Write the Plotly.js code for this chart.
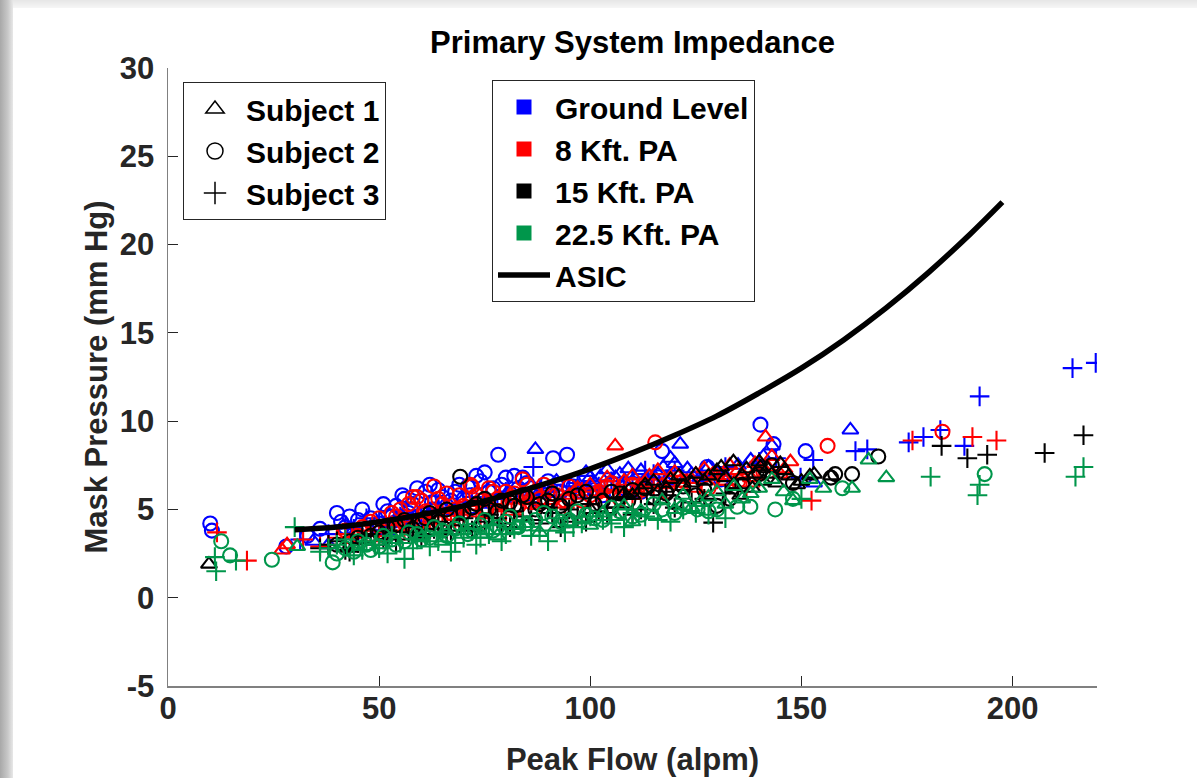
<!DOCTYPE html>
<html>
<head>
<meta charset="utf-8">
<script src="https://cdn.plot.ly/plotly-3.0.1.min.js"></script>
<style>
  html, body { margin: 0; padding: 0; background: #ffffff; }
  #wrap { position: relative; width: 1197px; height: 778px; overflow: hidden; }
  #chart { width: 1197px; height: 778px; }
  #edgeTop { position: absolute; left: 0; top: 0; width: 1197px; height: 8px; background: linear-gradient(to bottom, #e6e6e6, #f6f6f6); pointer-events: none; }
  #edgeLeft { position: absolute; left: 0; top: 0; width: 13px; height: 778px; background: linear-gradient(to right, #a8a8a8, #c8c8c8 60%, #e8e8e8); pointer-events: none; }
</style>
</head>
<body>
<div id="wrap">
  <div id="chart"></div>
  <div id="edgeTop"></div>
  <div id="edgeLeft"></div>
</div>
<script>
// ---------------- data ----------------
const xTickVals = [0, 50, 100, 150, 200];
const yTickVals = [-5, 0, 5, 10, 15, 20, 25, 30];

const subjectNames = ["Subject 1", "Subject 2", "Subject 3"];
const conditionNames = ["Ground Level", "8 Kft. PA", "15 Kft. PA", "22.5 Kft. PA"];

// Ground Level
const glS1Flow = [34.4, 38, 52, 60, 68, 75, 82, 87, 90, 95, 100, 102.4, 104, 107, 110, 112, 115, 117.3, 119, 121.3, 123, 126, 130, 135, 138, 141, 143, 153, 161.6,
  88, 92, 97, 99, 101, 106, 109, 113, 116, 118, 120, 124, 128, 132];
const glS1Pres = [3.2, 3.0, 3.8, 4.4, 4.9, 5.3, 5.6, 8.4, 6.2, 6.5, 6.8, 6.85, 7.25, 7.0, 6.6, 7.2, 6.9, 7.4, 7.9, 8.7, 7.3, 6.8, 7.1, 7.5, 7.8, 8.0, 8.6, 6.5, 9.5,
  6.0, 6.6, 6.3, 7.1, 6.5, 6.8, 7.3, 6.7, 7.0, 6.6, 7.6, 7.0, 7.4, 6.9];
const glS2Flow = [10, 10.4, 28, 33, 36, 40, 42, 44, 45, 47, 48, 50, 52, 54, 55, 56, 57, 58, 60, 61, 62, 63, 65, 66, 68, 70, 71, 72, 74, 75, 76, 78.2, 79, 80, 82, 83, 85, 87, 89, 91.2, 92, 94.5, 95, 98, 103, 108, 112, 117, 120, 127.7, 131, 140.3, 143.4, 151,
  41, 43, 46, 49, 51, 53, 55.5, 57.5, 59, 60.5, 62.5, 64, 67, 69, 71.5, 73, 77, 81, 84, 86, 88, 90, 93, 96, 99, 101, 105];
const glS2Pres = [4.2, 3.8, 2.9, 3.5, 3.9, 4.8, 4.0, 3.6, 4.4, 3.9, 4.5, 4.2, 4.9, 5.2, 4.4, 5.6, 4.8, 5.3, 5.5, 6.0, 6.4, 5.0, 5.7, 5.2, 6.0, 5.6, 6.3, 5.1, 6.6, 7.1, 6.0, 8.1, 6.4, 6.8, 6.9, 6.2, 6.5, 5.8, 6.1, 7.9, 6.4, 8.1, 5.7, 6.0, 5.8, 6.2, 6.0, 8.3, 7.0, 7.4, 6.7, 9.8, 8.7, 8.3,
  4.3, 4.6, 5.0, 4.1, 5.3, 4.6, 5.8, 5.0, 6.2, 4.7, 5.4, 6.1, 5.5, 6.4, 5.8, 6.9, 6.2, 5.9, 6.8, 6.2, 5.5, 6.6, 6.0, 6.3, 6.9, 6.1, 6.5];
const glS3Flow = [31.3, 38, 44, 50, 55, 58, 62, 66, 70, 74, 78, 86.5, 86, 90, 95, 100, 105, 110, 115, 120, 126, 132, 140, 144, 149.8, 152.8, 162.8, 165.6, 175.4, 178.9, 182.9, 188.6, 192.2, 214.2, 219.7,
  42, 47, 52, 56, 60, 64, 68, 72, 76, 80, 84, 88, 92, 97, 102, 108, 113, 118];
const glS3Pres = [3.3, 3.6, 3.9, 4.3, 4.6, 4.0, 4.9, 5.1, 5.4, 4.8, 5.6, 7.4, 5.8, 6.0, 6.3, 6.1, 6.6, 6.8, 7.0, 7.2, 6.9, 7.4, 7.7, 7.9, 6.8, 7.8, 8.3, 8.4, 8.8, 9.1, 9.5, 8.6, 11.4, 13.0, 13.3,
  4.1, 4.5, 4.0, 4.8, 4.5, 5.3, 4.8, 5.7, 5.2, 6.0, 5.5, 6.2, 5.7, 6.5, 6.3, 6.4, 7.2, 6.6];

// 8 Kft. PA
const k8S1Flow = [27, 28.2, 75, 85, 95, 100, 102, 105.9, 108, 111, 114, 117, 120, 124, 127, 130, 133, 136, 139, 141.5, 143, 146, 147.4,
  97, 104, 110, 113, 116, 119, 122, 125, 129, 132, 135, 138, 142, 145];
const k8S1Pres = [2.7, 3.0, 5.0, 5.5, 5.8, 6.4, 6.0, 8.6, 6.6, 6.2, 6.9, 6.4, 7.1, 6.7, 7.3, 6.9, 7.5, 7.0, 7.6, 9.1, 8.0, 7.3, 7.7,
  6.2, 6.8, 6.9, 6.5, 7.2, 6.8, 6.5, 7.0, 7.0, 6.6, 7.2, 6.8, 7.4, 7.0];
const k8S2Flow = [45, 48, 52, 54, 55, 58, 59, 60, 62, 63, 65, 67, 69, 70, 71.6, 72, 74, 75, 77, 79, 81.5, 83, 84, 85, 88, 90, 94, 97, 100, 104, 107, 110, 115.4, 118, 122, 128, 135, 141, 156.2, 183.4,
  42, 46, 50, 53, 56, 57, 61, 64, 66, 68, 73, 76, 78, 80, 82, 86, 87, 89, 92, 95, 98, 102, 105, 112];
const k8S2Pres = [3.5, 4.3, 4.0, 4.6, 5.0, 5.7, 5.7, 5.5, 4.2, 6.3, 5.3, 4.8, 5.8, 5.2, 6.4, 6.3, 5.5, 4.9, 6.0, 5.4, 5.7, 5.2, 6.7, 6.4, 5.6, 6.1, 5.5, 6.0, 5.8, 6.3, 5.6, 6.4, 8.8, 6.0, 6.6, 6.2, 6.6, 7.1, 8.6, 9.4,
  3.8, 4.0, 4.5, 4.8, 4.2, 5.3, 4.9, 5.6, 5.9, 5.0, 5.8, 6.2, 5.6, 6.0, 5.9, 5.4, 6.0, 6.4, 5.8, 6.3, 5.5, 6.0, 6.5, 6.1];
const k8S3Flow = [11.6, 18.7, 32, 36, 40, 44, 47, 50, 53, 56, 59, 62, 65, 68, 71, 74, 77, 80, 84, 88, 92, 96, 100, 104, 110, 115, 120, 126, 133, 140, 152.4, 176.3, 190.5, 196.2,
  38, 42, 45, 49, 52, 55, 58, 61, 64, 67, 70, 73, 76, 79, 82, 86, 90, 94, 98, 102, 107, 112, 118, 123, 130, 137];
const k8S3Pres = [3.7, 2.1, 3.3, 2.9, 3.4, 3.1, 3.8, 3.5, 4.1, 3.8, 4.5, 4.2, 4.8, 4.4, 5.0, 4.6, 5.3, 4.9, 5.4, 5.1, 5.5, 5.8, 5.3, 6.0, 5.6, 6.2, 6.6, 6.0, 6.4, 6.8, 5.5, 8.9, 9.1, 8.9,
  3.0, 3.6, 3.4, 3.2, 3.7, 4.3, 4.0, 3.9, 4.6, 4.1, 4.7, 5.2, 4.5, 5.0, 4.7, 5.6, 5.3, 5.1, 6.0, 5.7, 6.1, 5.9, 6.3, 6.5, 6.7, 6.3];

// 15 Kft. PA
const k15S1Flow = [9.7, 95, 100, 105, 110, 113, 116, 119, 122, 125, 127, 130, 132, 133.9, 135.5, 136, 138.4, 140, 140.3, 142, 144, 145, 147, 150, 153, 157,
  108, 112, 115, 118, 121, 124, 128, 131, 134, 137, 139, 141, 143, 146, 149, 152];
const k15S1Pres = [1.9, 4.5, 5.0, 5.3, 5.8, 6.4, 6.0, 6.7, 6.3, 7.0, 6.6, 7.2, 6.8, 7.7, 5.8, 6.9, 6.2, 7.7, 7.4, 7.3, 6.5, 7.6, 6.9, 6.6, 7.0, 6.9,
  5.9, 6.1, 6.6, 6.2, 6.9, 6.5, 6.9, 7.4, 6.4, 7.3, 7.0, 6.6, 7.0, 7.2, 6.4, 6.9];
const k15S2Flow = [40, 45, 50, 54, 58, 61, 64, 66, 69.2, 70, 73, 76, 79, 82, 85, 88, 91, 95, 99, 103, 107, 110, 115, 120, 125, 130, 136, 140, 143, 148, 157, 158, 162, 168.2,
  43, 48, 52, 56, 60, 62, 67, 72, 75, 78, 81, 84, 87, 90, 93, 97, 101, 105, 109, 113, 118, 122, 127, 133];
const k15S2Pres = [3.0, 3.4, 3.7, 4.1, 3.9, 4.5, 4.3, 5.0, 6.85, 4.8, 5.3, 5.0, 5.5, 5.2, 5.7, 5.3, 5.9, 5.6, 6.0, 5.5, 5.9, 6.1, 5.7, 5.4, 5.8, 5.2, 6.4, 7.0, 7.5, 6.5, 6.8, 7.0, 7.0, 8.0,
  3.2, 3.5, 4.0, 4.4, 4.2, 4.8, 4.6, 5.1, 5.6, 4.9, 5.4, 5.8, 5.0, 5.5, 5.2, 5.8, 5.3, 6.0, 5.5, 6.2, 5.9, 6.3, 6.1, 5.6];
const k15S3Flow = [36, 40, 43, 46, 49, 52, 55, 58, 61, 64, 67, 70, 73, 76, 79, 82, 86, 90, 93, 97, 100, 104, 108, 112, 118, 124, 129.1, 135, 183.2, 189.3, 194, 207.6, 216.8,
  38, 42, 45, 48, 51, 54, 57, 60, 63, 66, 69, 72, 75, 78, 81, 84, 88, 91, 95, 99, 102, 106, 110, 115, 120, 127, 132];
const k15S3Pres = [2.8, 3.2, 2.6, 3.5, 3.0, 3.8, 3.3, 4.0, 3.6, 4.3, 3.8, 4.5, 4.0, 4.7, 4.2, 4.9, 4.4, 5.1, 4.0, 4.6, 5.3, 4.8, 5.6, 5.0, 5.8, 5.4, 4.25, 6.2, 8.6, 7.9, 8.1, 8.2, 9.2,
  3.0, 2.7, 3.1, 3.6, 3.3, 3.1, 3.7, 3.4, 3.9, 3.6, 4.1, 3.8, 4.3, 4.5, 4.0, 4.6, 4.2, 4.8, 5.0, 4.3, 4.9, 5.1, 4.7, 5.3, 5.1, 5.6, 5.9];

// 22.5 Kft. PA
const k22S1Flow = [30.6, 60, 70, 78, 85, 92, 98, 103, 108, 112, 117, 122, 126, 130, 134, 138, 143, 145.8, 148, 152, 155.2, 162, 165.9, 170.1,
  65, 74, 82, 88, 95, 100, 106, 110, 115, 120, 124, 128, 132, 136, 140];
const k22S1Pres = [2.9, 3.4, 3.8, 3.5, 4.2, 4.0, 4.5, 4.8, 5.2, 4.9, 5.5, 5.8, 5.4, 6.0, 6.3, 5.9, 6.7, 6.0, 5.5, 6.7, 6.2, 6.2, 7.8, 6.8,
  3.2, 3.6, 3.9, 3.7, 4.3, 4.1, 4.6, 4.3, 4.7, 5.0, 5.1, 5.7, 5.3, 5.6, 6.2];
const k22S2Flow = [12.6, 14.7, 24.6, 39, 42, 45, 48, 51, 54, 57, 60, 63, 66, 69, 72, 75, 78, 81, 85, 89, 93, 97, 101, 105, 110, 115, 120, 125.4, 130, 134.8, 137.9, 143.8, 148, 159.7, 193.4,
  40, 44, 47, 50, 53, 56, 59, 62, 65, 68, 71, 74, 77, 80, 83, 87, 91, 95, 99, 103, 107, 112, 117, 122, 128];
const k22S2Pres = [3.2, 2.4, 2.15, 2.0, 2.8, 3.2, 2.7, 3.5, 3.0, 3.7, 3.3, 4.0, 3.5, 4.2, 3.8, 4.4, 4.0, 4.6, 4.2, 4.8, 4.3, 4.9, 4.5, 5.1, 4.6, 5.3, 4.8, 5.0, 5.0, 5.15, 5.15, 5.0, 5.6, 6.2, 7.0,
  2.5, 2.6, 3.0, 2.9, 3.3, 3.2, 3.6, 3.4, 3.8, 3.9, 3.6, 4.1, 3.8, 4.3, 4.0, 4.4, 4.6, 4.4, 4.7, 4.4, 4.9, 4.7, 5.0, 5.1, 4.9];
const k22S3Flow = [11.1, 11.4, 16.1, 30, 36, 40, 44, 47, 50, 53, 56, 59, 62, 65, 68, 71, 74, 77, 80, 84, 88, 90, 92, 96, 100, 105, 110, 116, 122, 128, 150, 180.6, 191.7, 192.2, 214.9, 216.8,
  38, 42, 46, 49, 52, 55, 58, 61, 64, 67, 70, 73, 76, 79, 82, 86, 94, 98, 103, 108, 113, 119, 125, 132];
const k22S3Pres = [2.3, 1.5, 2.1, 4.0, 2.6, 3.0, 2.4, 3.2, 2.8, 3.5, 2.2, 3.3, 2.9, 3.7, 3.1, 3.9, 3.4, 4.1, 3.6, 4.3, 3.8, 3.2, 4.5, 4.0, 4.6, 4.2, 4.8, 4.4, 5.0, 4.7, 5.6, 6.85, 5.8, 6.4, 6.85, 7.4,
  2.8, 3.3, 2.7, 3.0, 2.5, 3.1, 2.8, 3.5, 3.2, 2.6, 3.4, 3.0, 3.6, 3.2, 3.9, 3.5, 3.7, 4.2, 4.4, 4.0, 4.6, 4.3, 4.8, 4.5];

// ASIC reference curve
const asicFlow = [30, 40, 50, 60, 70, 80, 90, 100, 110, 120, 130, 140, 150, 160, 170, 180, 190, 197.6];
const asicPres = [3.85, 4.0, 4.3, 4.7, 5.2, 5.8, 6.5, 7.3, 8.2, 9.2, 10.3, 11.6, 13.0, 14.6, 16.4, 18.4, 20.6, 22.4];

// ---------------- styling ----------------
const conditionColors = ["#0000FF", "#FF0000", "#000000", "#00964B"];
const subjectSymbols = ["triangle-up-open", "circle-open", "cross-thin-open"];
const FONT = "Liberation Sans, Arial, Helvetica, sans-serif";

const dataSets = [
  [[glS1Flow, glS1Pres], [glS2Flow, glS2Pres], [glS3Flow, glS3Pres]],
  [[k8S1Flow, k8S1Pres], [k8S2Flow, k8S2Pres], [k8S3Flow, k8S3Pres]],
  [[k15S1Flow, k15S1Pres], [k15S2Flow, k15S2Pres], [k15S3Flow, k15S3Pres]],
  [[k22S1Flow, k22S1Pres], [k22S2Flow, k22S2Pres], [k22S3Flow, k22S3Pres]]
];

const traces = [];
dataSets.forEach((cond, ci) => {
  cond.forEach((pair, si) => {
    traces.push({
      type: "scatter", mode: "markers",
      x: pair[0], y: pair[1],
      name: conditionNames[ci] + " - " + subjectNames[si],
      showlegend: false,
      hoverinfo: "x+y+name",
      marker: {
        symbol: subjectSymbols[si],
        size: 14,
        color: conditionColors[ci],
        line: { color: conditionColors[ci], width: 2.1 }
      }
    });
  });
});

// ASIC line
const asicTrace = {
  type: "scatter", mode: "lines",
  x: asicFlow, y: asicPres,
  name: "ASIC",
  legend: "legend2",
  line: { color: "#000000", width: 5.5, shape: "spline" }
};

// legend entries: subjects (legend 1)
const subjectLegend = subjectNames.map((n, i) => ({
  type: "scatter", mode: "markers",
  x: [null], y: [null],
  name: n, legend: "legend",
  showlegend: true, hoverinfo: "skip",
  marker: { symbol: subjectSymbols[i], size: 17, color: "#000000", line: { color: "#000000", width: 1.5 } }
}));
// legend entries: conditions (legend 2)
const conditionLegend = conditionNames.map((n, i) => ({
  type: "scatter", mode: "markers",
  x: [null], y: [null],
  name: n, legend: "legend2",
  showlegend: true, hoverinfo: "skip",
  marker: { symbol: "square", size: 15, color: conditionColors[i], line: { width: 0 } }
}));

const ordered = traces.concat(subjectLegend).concat(conditionLegend).concat([asicTrace]);

const legendFont = { family: FONT, size: 30, color: "#000000", weight: "bold" };

const layout = {
  width: 1197, height: 778,
  paper_bgcolor: "#ffffff", plot_bgcolor: "#ffffff",
  margin: { l: 168, r: 100, t: 68, b: 92, pad: 0 },
  font: { family: FONT, color: "#262626" },
  title: {
    text: "Primary System Impedance",
    font: { family: FONT, size: 31, color: "#000000", weight: "bold" },
    x: 0.5, xref: "paper", xanchor: "center",
    y: 1 - 42 / 778, yref: "container", yanchor: "middle"
  },
  xaxis: {
    range: [0, 220], tickvals: xTickVals, ticktext: xTickVals.map(String),
    ticks: "inside", ticklen: 10, tickwidth: 1, tickcolor: "#262626",
    showline: true, linecolor: "#808080", linewidth: 2, mirror: false,
    showgrid: false, zeroline: false,
    tickfont: { family: FONT, size: 31, color: "#262626", weight: "bold" },
    ticklabelstandoff: -6,
    title: { text: "Peak Flow (alpm)", font: { family: FONT, size: 31, color: "#262626", weight: "bold" }, standoff: 23 }
  },
  yaxis: {
    range: [-5, 30], tickvals: yTickVals, ticktext: yTickVals.map(String),
    ticks: "inside", ticklen: 10, tickwidth: 1, tickcolor: "#262626",
    showline: true, linecolor: "#808080", linewidth: 1.5, mirror: false,
    showgrid: false, zeroline: false,
    tickfont: { family: FONT, size: 31, color: "#262626", weight: "bold" },
    ticklabelstandoff: 6,
    title: { text: "Mask Pressure (mm Hg)", font: { family: FONT, size: 31, color: "#262626", weight: "bold" }, standoff: 3 }
  },
  legend: {
    x: (183 - 168) / 929, y: (686 - 82) / 618, xanchor: "left", yanchor: "top",
    bgcolor: "#ffffff", bordercolor: "#262626", borderwidth: 1, itemwidth: 52,
    font: legendFont, traceorder: "normal", itemclick: false, itemdoubleclick: false
  },
  legend2: {
    x: (492 - 168) / 929, y: (686 - 80) / 618, xanchor: "left", yanchor: "top",
    bgcolor: "#ffffff", bordercolor: "#262626", borderwidth: 1, itemwidth: 52,
    font: legendFont, traceorder: "normal", itemclick: false, itemdoubleclick: false
  },
  showlegend: true
};

Plotly.newPlot("chart", ordered, layout, { displayModeBar: false, staticPlot: true });
</script>
</body>
</html>
